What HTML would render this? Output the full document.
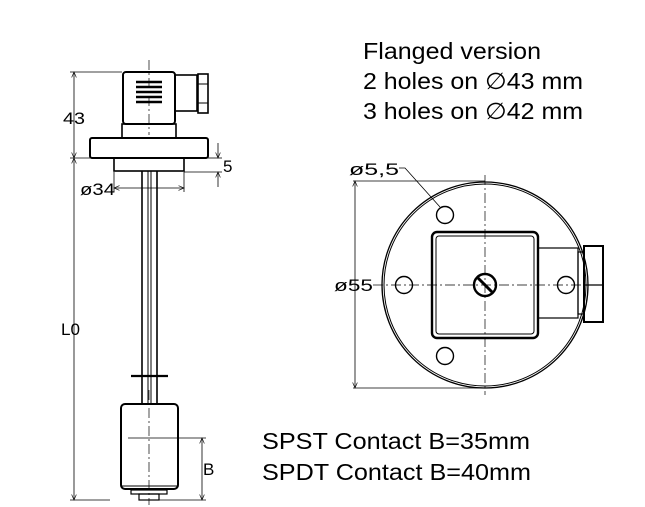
<!DOCTYPE html><html><head><style>body{margin:0;background:#fff}svg{display:block}text{font-family:"Liberation Sans",sans-serif}</style></head><body>
<svg width="645" height="507" viewBox="0 0 645 507" xmlns="http://www.w3.org/2000/svg">
<defs><marker id="a" markerWidth="8" markerHeight="8" refX="7" refY="3" orient="auto-start-reverse"><path d="M0,0 L7,3 L0,6" fill="none" stroke="#000" stroke-width="0.8"/></marker></defs>
<g stroke="#000" fill="none">
<line x1="70" y1="72" x2="122" y2="72" stroke-width="0.8"/>
<line x1="70" y1="158" x2="90" y2="158" stroke-width="0.8"/>
<line x1="70" y1="500" x2="110" y2="500" stroke-width="0.8"/>
<line x1="74" y1="72" x2="74" y2="158" stroke-width="0.8" marker-start="url(#a)" marker-end="url(#a)"/>
<line x1="74" y1="158" x2="74" y2="500" stroke-width="0.8" marker-start="url(#a)" marker-end="url(#a)"/>
<rect x="123" y="72" width="52" height="52" rx="3" stroke-width="2"/>
<g stroke-width="2.5"><line x1="136" y1="82" x2="162" y2="82"/><line x1="136" y1="87" x2="162" y2="87"/><line x1="136" y1="92" x2="162" y2="92"/><line x1="136" y1="97" x2="162" y2="97"/><line x1="136" y1="102" x2="162" y2="102"/></g>
<rect x="175" y="75" width="22" height="36" stroke-width="1.6"/>
<rect x="198" y="74" width="10" height="39" stroke-width="1.6"/>
<line x1="198" y1="84" x2="208" y2="84" stroke-width="1"/><line x1="198" y1="103" x2="208" y2="103" stroke-width="1"/>
<rect x="122" y="124" width="54" height="14" stroke-width="1.6"/>
<rect x="90" y="138" width="118" height="20" rx="2" stroke-width="2"/>
<rect x="114" y="158" width="70" height="13" stroke-width="1.6"/>
<line x1="208" y1="158" x2="222" y2="158" stroke-width="0.8"/><line x1="184" y1="172" x2="222" y2="172" stroke-width="0.8"/>
<line x1="218" y1="143" x2="218" y2="158" stroke-width="0.8" marker-end="url(#a)"/>
<line x1="218" y1="187" x2="218" y2="172" stroke-width="0.8" marker-end="url(#a)"/>
<line x1="114" y1="172" x2="114" y2="192" stroke-width="0.8"/><line x1="184" y1="172" x2="184" y2="192" stroke-width="0.8"/>
<line x1="114" y1="188" x2="184" y2="188" stroke-width="0.8" marker-start="url(#a)" marker-end="url(#a)"/>
<line x1="142" y1="171" x2="142" y2="404" stroke-width="1.6"/><line x1="157" y1="171" x2="157" y2="404" stroke-width="1.6"/>
<line x1="148" y1="171" x2="148" y2="404" stroke-width="1"/><line x1="151" y1="171" x2="151" y2="404" stroke-width="1"/>
<line x1="131" y1="376" x2="168" y2="376" stroke-width="2.2"/>
<rect x="121" y="404" width="57" height="85" rx="4" stroke-width="2"/>
<line x1="121" y1="486" x2="178" y2="486" stroke-width="1"/>
<rect x="131" y="490" width="36" height="4" stroke-width="1.2"/>
<rect x="139" y="494" width="20" height="6" stroke-width="1.2"/>
<line x1="149" y1="60" x2="149" y2="135" stroke-width="0.7" stroke-dasharray="10,3,2,3"/>
<line x1="149" y1="390" x2="149" y2="505" stroke-width="0.7" stroke-dasharray="10,3,2,3"/>
<line x1="128" y1="438" x2="206" y2="438" stroke-width="0.8"/>
<line x1="150" y1="500" x2="206" y2="500" stroke-width="0.8"/>
<line x1="202" y1="438" x2="202" y2="500" stroke-width="0.8" marker-start="url(#a)" marker-end="url(#a)"/>
<circle cx="485" cy="285" r="103" stroke-width="1.3"/>
<circle cx="485" cy="285" r="101" stroke-width="1"/>
<line x1="353" y1="181" x2="485" y2="181" stroke-width="0.8"/>
<line x1="353" y1="388" x2="485" y2="388" stroke-width="0.8"/>
<line x1="355" y1="181" x2="355" y2="388" stroke-width="0.8" marker-start="url(#a)" marker-end="url(#a)"/>
<line x1="373" y1="285" x2="600" y2="285" stroke-width="0.7" stroke-dasharray="10,3,2,3"/>
<line x1="485" y1="175" x2="485" y2="395" stroke-width="0.7" stroke-dasharray="10,3,2,3"/>
<rect x="432" y="232" width="106" height="106" rx="5" stroke-width="2.4"/>
<rect x="436" y="236" width="98" height="98" rx="3" stroke-width="1"/>
<rect x="538" y="248" width="40" height="70" stroke-width="1.2"/>
<rect x="578" y="252" width="6" height="62" stroke-width="1.2"/>
<rect x="584" y="246" width="19" height="76" stroke-width="2"/>
<line x1="584" y1="285" x2="603" y2="285" stroke-width="1.2"/>
<circle cx="445" cy="215" r="8.5" stroke-width="1.4"/>
<circle cx="404" cy="285" r="8.5" stroke-width="1.4"/>
<circle cx="445" cy="356" r="8.5" stroke-width="1.4"/>
<circle cx="566" cy="285" r="8.5" stroke-width="1.4"/>
<circle cx="485" cy="285" r="11" stroke-width="2.4"/>
<line x1="478" y1="278" x2="492" y2="292" stroke-width="3"/>
<polyline points="399,168 405,168 440,207" stroke-width="0.8"/>
</g>
<g font-size="17">
<text x="63" y="124" textLength="22" lengthAdjust="spacingAndGlyphs">43</text>
<text x="223" y="172">5</text>
<text x="80" y="195" textLength="35" lengthAdjust="spacingAndGlyphs">ø34</text>
<text x="61" y="335" textLength="19" lengthAdjust="spacingAndGlyphs">L0</text>
<text x="203" y="475">B</text>
<text x="349" y="175" textLength="50" lengthAdjust="spacingAndGlyphs">ø5,5</text>
<text x="334" y="291" textLength="39" lengthAdjust="spacingAndGlyphs">ø55</text>
</g>
<g font-size="23">
<text x="363" y="59" textLength="178" lengthAdjust="spacingAndGlyphs">Flanged version</text>
<text x="363" y="89" textLength="220" lengthAdjust="spacingAndGlyphs">2 holes on ∅43 mm</text>
<text x="363" y="119" textLength="220" lengthAdjust="spacingAndGlyphs">3 holes on ∅42 mm</text>
<text x="262" y="449" textLength="268" lengthAdjust="spacingAndGlyphs">SPST Contact B=35mm</text>
<text x="262" y="480" textLength="269" lengthAdjust="spacingAndGlyphs">SPDT Contact B=40mm</text>
</g>
</svg></body></html>
